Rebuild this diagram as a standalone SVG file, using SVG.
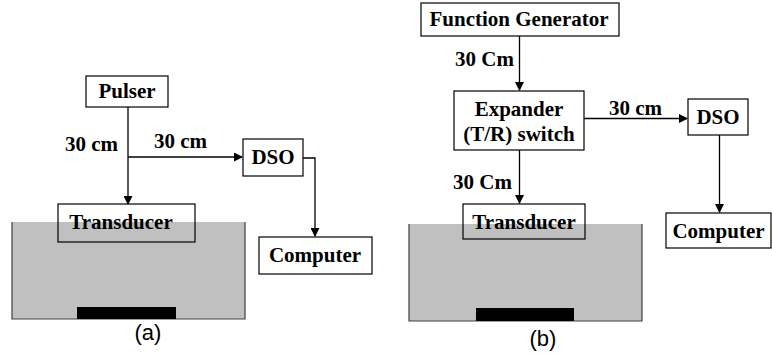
<svg xmlns="http://www.w3.org/2000/svg" width="772" height="357" viewBox="0 0 772 357">
<style>
.box{fill:#fff;stroke:#000;stroke-width:1.2}
.tb{fill:none;stroke:#000;stroke-width:1.2}
.t{font-weight:bold;font-size:21px;fill:#000;text-anchor:middle}
.l{font-weight:bold;font-size:21px;fill:#000}
.cap{font-size:22px;fill:#000;text-anchor:middle}
.c{fill:none;stroke:#000;stroke-width:1.3}
.tank{fill:#c0c0c0}
.tankb{fill:none;stroke:#404040;stroke-width:1.2}
</style>
<defs>
<marker id="ah" markerWidth="9" markerHeight="9" refX="8" refY="4.5" orient="auto" markerUnits="userSpaceOnUse">
<path d="M0,0 L9,4.5 L0,9 Z" fill="#000"/>
</marker>
</defs>
<g id="tank-a">
<rect class="tank" x="12" y="222" width="233" height="97"/>
<path class="tankb" d="M12,222 V319 H245 V222"/>
<rect x="77" y="307" width="99" height="12" fill="#000"/>
</g>
<g id="tank-b">
<rect class="tank" x="409" y="224" width="233" height="97"/>
<path class="tankb" d="M409,224 V321 H642 V224"/>
<rect x="476" y="308" width="98" height="13" fill="#000"/>
</g>
<g font-family="Liberation Serif, Times New Roman, serif">
<g id="pulser"><rect class="box" x="86" y="76" width="82" height="31"/><text class="t" font-family="Liberation Serif" x="127" y="98">Pulser</text></g>
<g id="transducer-a"><rect class="tb" x="58" y="204" width="137" height="38"/><text class="t" font-family="Liberation Serif" x="121" y="229">Transducer</text></g>
<g id="dso-a"><rect class="box" x="243" y="139" width="60" height="37"/><text class="t" font-family="Liberation Serif" x="273" y="164">DSO</text></g>
<g id="computer-a"><rect class="box" x="259" y="237" width="113" height="37"/><text class="t" font-family="Liberation Serif" x="315" y="262">Computer</text></g>
<g id="funcgen"><rect class="box" x="421" y="3" width="198" height="33"/><text class="t" font-family="Liberation Serif" x="519" y="26">Function Generator</text></g>
<g id="expander"><rect class="box" x="454" y="91" width="130" height="59"/><text class="t" font-family="Liberation Serif" x="519" y="116">Expander</text><text class="t" font-family="Liberation Serif" x="519" y="141">(T/R) switch</text></g>
<g id="dso-b"><rect class="box" x="688" y="99" width="60" height="36"/><text class="t" font-family="Liberation Serif" x="718" y="124">DSO</text></g>
<g id="computer-b"><rect class="box" x="666" y="213" width="105" height="35"/><text class="t" font-family="Liberation Serif" x="718.5" y="238">Computer</text></g>
<g id="transducer-b"><rect class="tb" x="463" y="204" width="122" height="35"/><text class="t" font-family="Liberation Serif" x="524" y="229">Transducer</text></g>
</g>
<g id="connectors">
<path class="c" d="M128,107 V204" marker-end="url(#ah)"/>
<path class="c" d="M128,157 H242" marker-end="url(#ah)"/>
<path class="c" d="M303,158 H315 V236" marker-end="url(#ah)"/>
<path class="c" d="M519.5,36 V90" marker-end="url(#ah)"/>
<path class="c" d="M584,118.5 H687" marker-end="url(#ah)"/>
<path class="c" d="M719.5,135 V212" marker-end="url(#ah)"/>
<path class="c" d="M519.5,150 V203" marker-end="url(#ah)"/>
</g>
<g id="labels">
<text class="l" font-family="Liberation Serif" x="65" y="151">30 cm</text>
<text class="l" font-family="Liberation Serif" x="154" y="148">30 cm</text>
<text class="l" font-family="Liberation Serif" x="455" y="66">30 Cm</text>
<text class="l" font-family="Liberation Serif" x="453" y="189">30 Cm</text>
<text class="l" font-family="Liberation Serif" x="609" y="115">30 cm</text>
<text class="cap" font-family="Liberation Sans" x="148" y="340">(a)</text>
<text class="cap" font-family="Liberation Sans" x="543" y="346">(b)</text>
</g>
</svg>
